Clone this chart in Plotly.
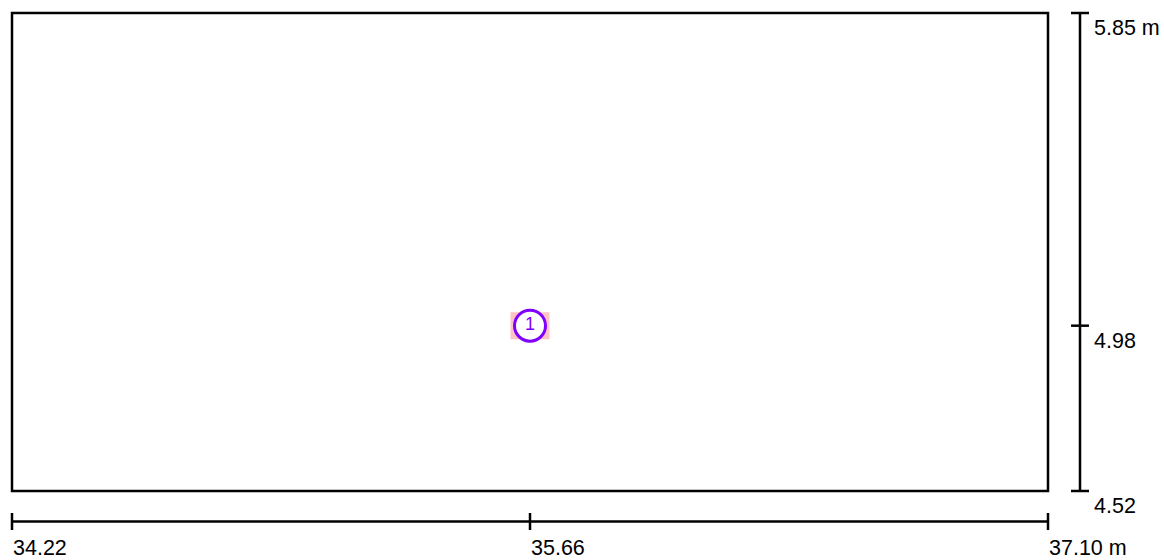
import plotly.graph_objects as go

# Extent of the drawing (metres)
x_min, x_mid, x_max = 34.22, 35.66, 37.10
y_min, y_mid, y_max = 4.52, 4.98, 5.85

x_tick_values = [x_min, x_mid, x_max]
x_tick_labels = ["34.22", "35.66", "37.10 m"]
y_tick_values = [y_max, y_mid, y_min]
y_tick_labels = ["5.85 m", "4.98", "4.52"]

# Marked point
point_x = [35.66]
point_y = [4.98]
point_labels = ["1"]

W, H = 1164, 560
# pixel placement of the drawing frame inside the page
frame_left, frame_right, frame_top, frame_bottom = 12, 1048, 13, 491
sx = (frame_right - frame_left) / (x_max - x_min)
sy = (frame_bottom - frame_top) / (y_max - y_min)

x_range = [x_min - frame_left / sx, x_min + (W - frame_left) / sx]
y_range = [y_min - (H - frame_bottom) / sy, y_min + frame_bottom / sy]


def px_x(p):
    return x_min + (p - frame_left) / sx


def px_y(p):
    return y_min + (frame_bottom - p) / sy


ink = "#000000"
lw = 2.5
shapes = []

# frame
shapes.append(dict(type="rect", xref="x", yref="y", x0=x_min, x1=x_max,
                   y0=y_min, y1=y_max, line=dict(color=ink, width=lw),
                   fillcolor="rgba(0,0,0,0)", layer="below"))

# horizontal dimension line
dim_y = px_y(521.5)
shapes.append(dict(type="line", xref="x", yref="y", x0=x_min, x1=x_max,
                   y0=dim_y, y1=dim_y, line=dict(color=ink, width=lw)))
for xv in x_tick_values:
    shapes.append(dict(type="line", xref="x", yref="y", x0=xv, x1=xv,
                       y0=px_y(513), y1=px_y(530), line=dict(color=ink, width=lw)))

# vertical dimension line
dim_x = px_x(1080)
shapes.append(dict(type="line", xref="x", yref="y", x0=dim_x, x1=dim_x,
                   y0=y_min, y1=y_max, line=dict(color=ink, width=lw)))
for yv in y_tick_values:
    shapes.append(dict(type="line", xref="x", yref="y", x0=px_x(1071), x1=px_x(1089),
                       y0=yv, y1=yv, line=dict(color=ink, width=lw)))

# highlight box behind the point
for xv, yv in zip(point_x, point_y):
    shapes.append(dict(type="rect", xref="x", yref="y", xsizemode="pixel",
                       ysizemode="pixel", xanchor=xv, yanchor=yv,
                       x0=-19.5, x1=19.5, y0=-13.5, y1=13.5,
                       line=dict(width=0), fillcolor="#ffc4c4", layer="below"))

font = dict(family="Liberation Sans, Arial, sans-serif", size=21.5, color=ink)
annotations = []
for xv, lab in zip(x_tick_values, x_tick_labels):
    annotations.append(dict(x=xv, y=px_y(535), xref="x", yref="y", text=lab,
                            showarrow=False, xanchor="left", yanchor="top",
                            borderpad=0, font=font))
for yv, lab in zip(y_tick_values, y_tick_labels):
    annotations.append(dict(x=px_x(1093), y=yv - 2 / sy, xref="x", yref="y", text=lab,
                            showarrow=False, xanchor="left", yanchor="top",
                            borderpad=0, font=font))

fig = go.Figure()
fig.add_trace(go.Scatter(
    x=point_x, y=point_y, mode="markers+text", text=point_labels,
    textposition="middle center",
    textfont=dict(family="Liberation Sans, Arial, sans-serif", size=18, color="#8000ff"),
    marker=dict(symbol="circle", size=31, color="#ffffff",
                line=dict(color="#8000ff", width=3)),
    hoverinfo="skip", showlegend=False,
))

fig.update_layout(
    width=W, height=H,
    margin=dict(l=0, r=0, t=0, b=0, pad=0),
    paper_bgcolor="#ffffff", plot_bgcolor="#ffffff",
    xaxis=dict(range=x_range, visible=False, fixedrange=True),
    yaxis=dict(range=y_range, visible=False, fixedrange=True),
    shapes=shapes, annotations=annotations,
    showlegend=False,
)

fig.write_html("out.html")
